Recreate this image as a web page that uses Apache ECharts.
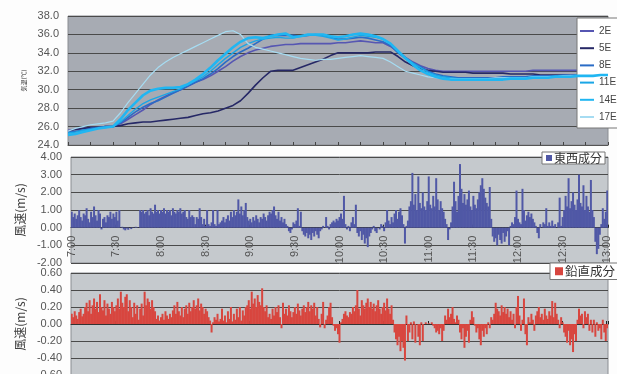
<!DOCTYPE html>
<html><head><meta charset="utf-8">
<script src="https://cdn.jsdelivr.net/npm/echarts@6/dist/echarts.min.js"></script>
<style>html,body{margin:0;padding:0;background:#fdfdfd}#c{width:617px;height:374px}</style>
</head><body><div id="c"></div>
<script>
// time categories (1-minute, 7:00-13:00)
const times = [];
for (let m = 0; m <= 360; m++) { times.push((7 + Math.floor(m / 60)) + ':' + String(m % 60).padStart(2, '0')); }
const tempTimes = times.filter((_, i) => i % 5 === 0);

const seriesNames = ['2E', '5E', '8E', '11E', '14E', '17E'];
// temperatures every 5 minutes
const t2E = [25.6,25.7,25.8,25.9,25.9,26.0,26.0,26.3,26.8,27.3,27.8,28.4,28.9,29.3,29.7,30.0,30.4,30.8,31.1,31.5,32.0,32.5,33.1,33.6,34.0,34.3,34.5,34.7,34.8,34.9,34.9,35.0,35.0,35.0,35.0,35.0,35.1,35.1,35.2,35.3,35.2,35.1,35.1,34.7,34.1,33.5,33.0,32.6,32.3,32.1,32.0,32.0,32.0,32.0,32.0,32.0,32.0,32.0,32.0,32.0,32.0,32.0,32.1,32.1,32.1,32.1,32.1,32.1,32.1,32.2,32.2,32.2,32.2];
const t5E = [25.5,25.7,25.8,25.9,25.9,26.0,26.0,26.1,26.3,26.4,26.5,26.5,26.6,26.7,26.8,26.9,27.0,27.2,27.4,27.5,27.7,28.0,28.3,28.8,29.6,30.5,31.3,32.0,32.1,32.1,32.1,32.4,32.7,33.0,33.3,33.7,34.0,34.0,34.0,34.0,34.0,34.1,34.1,34.1,33.6,33.0,32.6,32.3,32.1,32.0,31.9,31.9,31.9,31.9,31.8,31.8,31.8,31.8,31.8,31.7,31.7,31.7,31.7,31.6,31.6,31.6,31.6,31.5,31.5,31.5,31.5,31.5,31.5];
const t8E = [25.4,25.5,25.6,25.8,25.9,26.0,26.0,26.4,27.0,27.6,28.1,28.5,28.8,29.2,29.6,30.0,30.4,30.8,31.2,31.7,32.3,33.0,33.6,34.1,34.5,35.0,35.5,35.9,35.9,35.9,35.9,35.8,35.9,36.0,35.9,35.7,35.5,35.5,35.6,35.7,35.6,35.4,35.2,34.8,34.0,33.4,32.9,32.5,32.0,31.7,31.5,31.4,31.3,31.3,31.3,31.3,31.3,31.3,31.4,31.4,31.4,31.4,31.5,31.5,31.5,31.5,31.6,31.6,31.6,31.7,31.7,31.8,31.8];
const t11E = [25.3,25.4,25.6,25.7,25.8,25.9,26.0,26.5,27.2,27.9,28.5,28.9,29.2,29.5,29.8,30.1,30.6,31.0,31.4,32.0,32.7,33.4,34.0,34.6,35.0,35.3,35.5,35.6,35.7,35.6,35.6,35.8,35.9,35.9,35.8,35.6,35.4,35.5,35.7,35.9,35.8,35.7,35.5,35.0,34.2,33.5,32.9,32.4,31.9,31.6,31.4,31.3,31.2,31.2,31.2,31.2,31.2,31.2,31.3,31.3,31.3,31.3,31.4,31.4,31.4,31.5,31.5,31.5,31.6,31.6,31.6,31.7,31.7];
const t14E = [25.1,25.2,25.4,25.6,25.8,25.9,26.0,26.8,27.8,28.6,29.4,29.9,30.1,30.2,30.2,30.3,30.6,31.1,31.7,32.4,33.2,33.9,34.6,35.2,35.6,35.7,35.6,35.8,36.0,36.1,35.7,35.8,36.0,36.0,36.0,35.8,35.7,35.8,36.0,36.1,36.0,35.8,35.5,35.0,34.2,33.4,32.7,32.1,31.7,31.4,31.2,31.1,31.1,31.1,31.1,31.1,31.1,31.1,31.1,31.2,31.2,31.2,31.3,31.3,31.3,31.4,31.4,31.4,31.5,31.5,31.5,31.6,31.6];
const t17E = [25.5,25.8,26.0,26.2,26.3,26.4,26.6,27.5,28.6,29.6,30.6,31.6,32.4,33.0,33.5,33.9,34.3,34.7,35.1,35.5,35.9,36.3,36.4,36.0,35.0,34.6,34.4,34.2,34.0,33.8,33.6,33.4,33.3,33.2,33.3,33.3,33.4,33.5,33.6,33.7,33.6,33.5,33.4,33.0,32.5,32.0,31.8,31.6,31.4,31.3,31.2,31.2,31.2,31.2,31.2,31.2,31.2,31.3,31.3,31.3,31.3,31.3,31.4,31.4,31.4,31.4,31.5,31.5,31.5,31.5,31.6,31.6,31.6];

// 東西成分 (m/s), 1-minute
const eastWest = [
0.9,0.6,0.8,0.5,0.7,1.0,0.6,0.4,0.8,0.7, 1.1,0.5,0.3,0.9,0.6,1.2,0.7,0.4,1.0,0.8,
-0.1,0.5,0.6,0.3,0.7,0.6,0.9,0.5,0.8,0.6, 0.9,0.4,1.0,0.0,0.05,-0.1,-0.15,-0.05,-0.12,0.0,
-0.08,0.02,0.0,0.05,0.02,0.0,1.0,0.9,1.0,0.8, 0.9,1.0,0.7,1.1,0.9,0.8,1.3,0.9,1.0,0.8,
1.0,0.9,1.1,0.8,1.0,0.9,1.0,0.7,1.1,0.9, 0.8,1.0,0.9,1.1,0.8,0.9,1.0,0.6,0.5,1.0,
0.6,0.7,0.6,0.2,0.6,0.5,1.1,0.6,0.2,0.5, 0.1,1.0,0.2,0.1,0.3,1.0,0.2,0.1,1.0,0.2,
0.3,0.4,0.6,0.3,0.5,0.7,0.4,0.9,0.6,1.0, 0.7,0.9,1.6,0.8,1.2,0.7,1.0,1.4,0.6,0.4,
0.5,0.3,0.6,0.4,0.7,0.5,0.3,0.6,0.5,0.8, 0.6,0.4,0.7,0.9,0.8,1.0,1.2,0.7,0.5,0.9,
0.4,0.6,0.3,0.5,0.2,0.1,-0.2,-0.3,-0.1,0.3, 0.2,0.4,1.1,0.1,0.9,-0.2,-0.4,-0.5,-0.3,-0.6,
-0.4,-0.7,-0.3,-0.5,-0.2,-0.4,-0.6,-0.2,-0.1,0.1, 0.0,0.6,0.1,-0.1,0.2,0.3,0.4,0.3,0.5,0.4,
0.6,0.8,0.5,1.8,0.2,-0.1,0.1,-0.2,0.3,0.6, 0.2,1.3,-0.3,-0.5,-0.2,-0.7,-0.4,-0.9,-0.6,-1.1,
-0.5,-0.3,-0.1,0.1,-0.2,-0.3,0.0,-0.1,0.2,0.1, -0.2,0.3,1.0,0.4,0.2,0.6,0.3,0.8,1.0,0.5,
0.9,1.1,0.7,0.2,-0.9,0.1,0.4,1.2,1.5,3.1, 1.3,1.9,1.0,2.9,1.4,1.1,2.0,1.2,1.0,1.5,
2.9,1.3,1.1,1.8,1.2,2.8,1.6,1.0,1.5,1.1, 0.9,0.5,0.2,-0.7,-0.1,0.3,1.2,2.6,1.5,0.9,
1.8,3.6,2.2,1.4,1.9,1.3,1.6,2.1,1.2,1.0, 1.8,1.3,1.1,1.6,2.0,2.4,2.8,2.2,1.7,1.4,
1.2,2.3,0.5,-0.5,-0.8,-0.6,-1.0,-0.4,-0.7,-0.9, -0.3,-0.8,-0.5,-0.2,-1.0,0.1,0.3,0.2,0.6,2.1,
0.5,0.3,0.2,2.2,1.0,0.4,0.7,0.9,0.6,0.8, 0.5,0.3,0.1,-0.3,-0.6,0.2,0.0,0.3,0.2,1.1,
0.1,0.3,0.1,0.4,0.1,0.2,0.0,0.3,1.7,0.1, 0.6,1.0,1.8,1.2,2.8,1.1,1.5,2.0,1.3,1.0,
1.6,3.0,1.4,1.2,2.4,1.0,1.8,1.2,0.9,2.7, 1.0,0.6,-0.8,-1.5,-1.2,-0.4,0.2,1.1,0.5,0.9,
2.1];

// 鉛直成分 (m/s), 1-minute
const vertical = [
0.12,0.08,0.15,0.10,0.06,0.14,0.18,0.09,0.12,0.20, 0.25,0.15,0.28,0.12,0.22,0.30,0.18,0.26,0.14,0.35,
0.20,0.16,0.28,0.10,0.24,0.18,0.12,0.26,0.20,0.15, 0.22,0.30,0.18,0.38,0.25,0.20,0.32,0.35,0.15,0.28,
0.20,0.08,0.25,0.12,0.22,0.05,0.18,0.24,0.10,0.38, 0.22,0.30,0.26,0.18,0.28,0.20,0.15,0.06,0.10,0.04,
0.08,0.12,0.05,0.15,0.10,0.06,0.12,0.08,0.16,0.22, 0.12,0.26,0.15,0.10,0.20,0.08,0.18,0.22,0.12,0.25,
0.15,0.20,0.28,0.18,0.22,0.30,0.16,0.24,0.20,0.12, 0.18,0.15,0.08,0.04,-0.10,0.02,0.08,0.05,0.12,0.03,
0.06,0.18,0.04,0.10,0.02,0.15,0.06,0.20,0.03,0.12, 0.05,0.18,0.08,0.20,0.04,0.16,0.10,0.20,0.22,0.28,
0.18,0.38,0.24,0.30,0.20,0.34,0.26,0.22,0.42,0.20, 0.15,0.22,0.08,0.12,0.06,0.18,0.10,0.20,0.14,0.22,
0.08,-0.05,0.25,0.12,0.18,0.10,0.22,0.15,0.08,0.14, 0.20,0.12,0.24,0.16,0.10,0.18,0.22,0.14,0.20,0.26,
0.15,0.22,0.18,0.25,0.10,0.20,0.06,-0.04,0.12,0.26, -0.05,0.05,0.10,0.20,0.25,0.08,-0.02,-0.08,-0.05,-0.12,
-0.22,0.02,0.06,0.12,0.15,0.10,0.08,0.14,0.12,0.20, 0.15,0.22,0.40,0.18,0.10,0.28,0.22,0.18,0.25,0.30,
0.20,0.26,0.18,0.24,0.15,0.22,0.28,0.18,0.12,0.20, 0.25,0.16,0.30,0.18,0.12,0.22,0.05,-0.10,-0.18,-0.25,
-0.15,-0.32,-0.20,-0.28,-0.43,0.10,-0.20,-0.10,0.02,-0.18, 0.03,-0.22,0.00,-0.15,-0.25,0.02,-0.20,0.00,0.02,0.00,
0.01,0.00,0.02,-0.02,-0.05,-0.10,-0.08,-0.12,-0.05,-0.20, -0.08,0.10,0.05,0.18,0.08,0.12,0.20,0.06,0.02,0.10,
0.05,-0.10,-0.18,-0.05,-0.28,-0.15,-0.08,-0.22,0.05,0.15, 0.08,-0.02,-0.10,-0.05,-0.18,-0.25,-0.08,-0.15,-0.05,-0.12,
0.02,-0.05,0.08,0.05,0.12,0.25,0.18,0.15,0.10,0.22, 0.14,0.20,0.12,0.18,0.08,0.15,0.05,0.12,-0.05,0.20,
0.33,0.10,-0.08,0.05,0.30,-0.12,-0.25,0.08,0.02,0.12, 0.05,-0.08,0.10,0.15,0.20,0.08,0.12,0.05,0.18,0.10,
0.06,0.15,0.10,0.27,0.08,0.25,0.12,0.05,-0.05,0.08, 0.02,-0.10,-0.15,-0.22,-0.08,-0.25,-0.18,-0.33,-0.12,-0.20,
0.05,0.18,0.10,0.12,-0.05,0.15,0.08,0.12,-0.08,0.05, -0.10,0.05,-0.15,0.02,-0.08,-0.05,-0.18,0.05,-0.10,-0.20,
-0.05];

const tempData = [t2E, t5E, t8E, t11E, t14E, t17E];
const lineColors = ['#5656b2', '#262866', '#2a6cc6', '#1aa6e6', '#20b6f2', '#a6dcf2'];
const lineWidths = [1.6, 1.6, 1.6, 1.4, 2.6, 1.2];

const chart = echarts.init(document.getElementById('c'), null, {renderer: 'canvas'});
const font = 'Liberation Sans, Arial, sans-serif';
const gridLine = {show: true, lineStyle: {color: '#4a4a4a', width: 1}};
const yLabel = {color: '#555', fontSize: 11, fontFamily: font, margin: 9};

// grid geometry (layout only)
const g1 = {top: 157, height: 106}, g2 = {top: 273, height: 102};

const option = {
  backgroundColor: '#fdfdfd',
  animation: false,
  grid: [
    {left: 68, right: 9, top: 16, height: 129, outerBoundsMode: 'none', containLabel: false, show: true, backgroundColor: '#a7abb3', borderColor: '#8a8d92', borderWidth: 1},
    {left: 71, right: 9, top: g1.top, height: g1.height, outerBoundsMode: 'none', containLabel: false, show: true, backgroundColor: '#c5c9cd', borderColor: '#8a8d92', borderWidth: 1},
    {left: 71, right: 9, top: g2.top, height: g2.height, outerBoundsMode: 'none', containLabel: false, show: true, backgroundColor: '#c5c9cd', borderColor: '#8a8d92', borderWidth: 1}
  ],
  legend: [
    {data: seriesNames.map(n => ({name: n, icon: 'rect'})), orient: 'vertical', left: 577, top: 18,
     itemWidth: 14, itemHeight: 2, itemGap: 7.2,
     padding: [8, 6, 6, 3], backgroundColor: '#ffffff', borderColor: '#777', borderWidth: 1, borderRadius: 0,
     textStyle: {fontSize: 10, lineHeight: 10, color: '#444', fontFamily: font}},
    {data: ['東西成分'], left: 542, top: 152, icon: 'rect', itemWidth: 6, itemHeight: 6, padding: [0, 3, 0, 4],
     backgroundColor: '#ffffff', borderColor: '#777', borderWidth: 1, borderRadius: 0,
     textStyle: {fontSize: 12, color: '#333', fontFamily: 'Noto Sans CJK JP', padding: [0, 0, 0, -3]}},
    {data: ['鉛直成分'], left: 550, top: 263, icon: 'rect', itemWidth: 8, itemHeight: 8, padding: [2, 3, 2, 5],
     backgroundColor: '#ffffff', borderColor: '#777', borderWidth: 1, borderRadius: 0,
     textStyle: {fontSize: 12.5, color: '#333', fontFamily: 'Noto Sans CJK JP', padding: [0, 0, 0, -3]}}
  ],
  xAxis: [
    {gridIndex: 0, type: 'category', data: tempTimes, boundaryGap: false,
     axisLine: {lineStyle: {color: '#555'}}, axisTick: {inside: true, length: 3, interval: 2, lineStyle: {color: '#444'}},
     axisLabel: {show: false}, splitLine: {show: false}},
    {gridIndex: 1, type: 'category', data: times, boundaryGap: true,
     offset: -(g1.height * 2 / 6),
     axisLine: {onZero: false, lineStyle: {color: '#333', width: 1}},
     axisTick: {show: true, inside: true, length: 3, interval: 29, lineStyle: {color: '#222'}},
     axisLabel: {interval: 29, rotate: 90, fontSize: 11, color: '#555', fontFamily: font, margin: 8}},
    {gridIndex: 2, type: 'category', data: times, boundaryGap: true,
     offset: -(g2.height / 2),
     axisLine: {onZero: false, lineStyle: {color: '#333', width: 1}},
     axisTick: {show: true, inside: true, length: 3, interval: 29, lineStyle: {color: '#222'}},
     axisLabel: {show: false}}
  ],
  yAxis: [
    {gridIndex: 0, type: 'value', min: 24, max: 38, interval: 2,
     axisLabel: Object.assign({formatter: v => v.toFixed(1)}, yLabel), splitLine: gridLine,
     axisLine: {show: false}, axisTick: {show: false},
     name: '気温(℃)', nameLocation: 'middle', nameGap: 38, nameTextStyle: {fontSize: 6, color: '#333', fontFamily: 'Noto Sans CJK JP'}},
    {gridIndex: 1, type: 'value', min: -2, max: 4, interval: 1,
     axisLabel: Object.assign({formatter: v => v.toFixed(2)}, yLabel), splitLine: gridLine,
     axisLine: {show: false}, axisTick: {show: false},
     name: '風速(m/s)', nameLocation: 'middle', nameGap: 44, nameTextStyle: {fontSize: 12, color: '#444', fontFamily: 'Noto Sans CJK JP'}},
    {gridIndex: 2, type: 'value', min: -0.6, max: 0.6, interval: 0.2,
     axisLabel: Object.assign({formatter: v => v.toFixed(2)}, yLabel), splitLine: gridLine,
     axisLine: {show: false}, axisTick: {show: false},
     name: '風速(m/s)', nameLocation: 'middle', nameGap: 44, nameTextStyle: {fontSize: 12, color: '#444', fontFamily: 'Noto Sans CJK JP'}}
  ],
  series: [
    ...seriesNames.map((n, i) => ({
      name: n, type: 'line', xAxisIndex: 0, yAxisIndex: 0, data: tempData[i],
      symbol: 'none', smooth: false, z: i === 4 ? 4 : 3,
      lineStyle: {color: lineColors[i], width: lineWidths[i]}, itemStyle: {color: lineColors[i]}
    })),
    {name: '東西成分', type: 'bar', xAxisIndex: 1, yAxisIndex: 1, data: eastWest,
     barWidth: 2, itemStyle: {color: '#5058a6'}},
    {name: '鉛直成分', type: 'bar', xAxisIndex: 2, yAxisIndex: 2, data: vertical,
     barWidth: 2, itemStyle: {color: '#d8463f'}}
  ]
};
chart.setOption(option);
</script>
</body></html>
